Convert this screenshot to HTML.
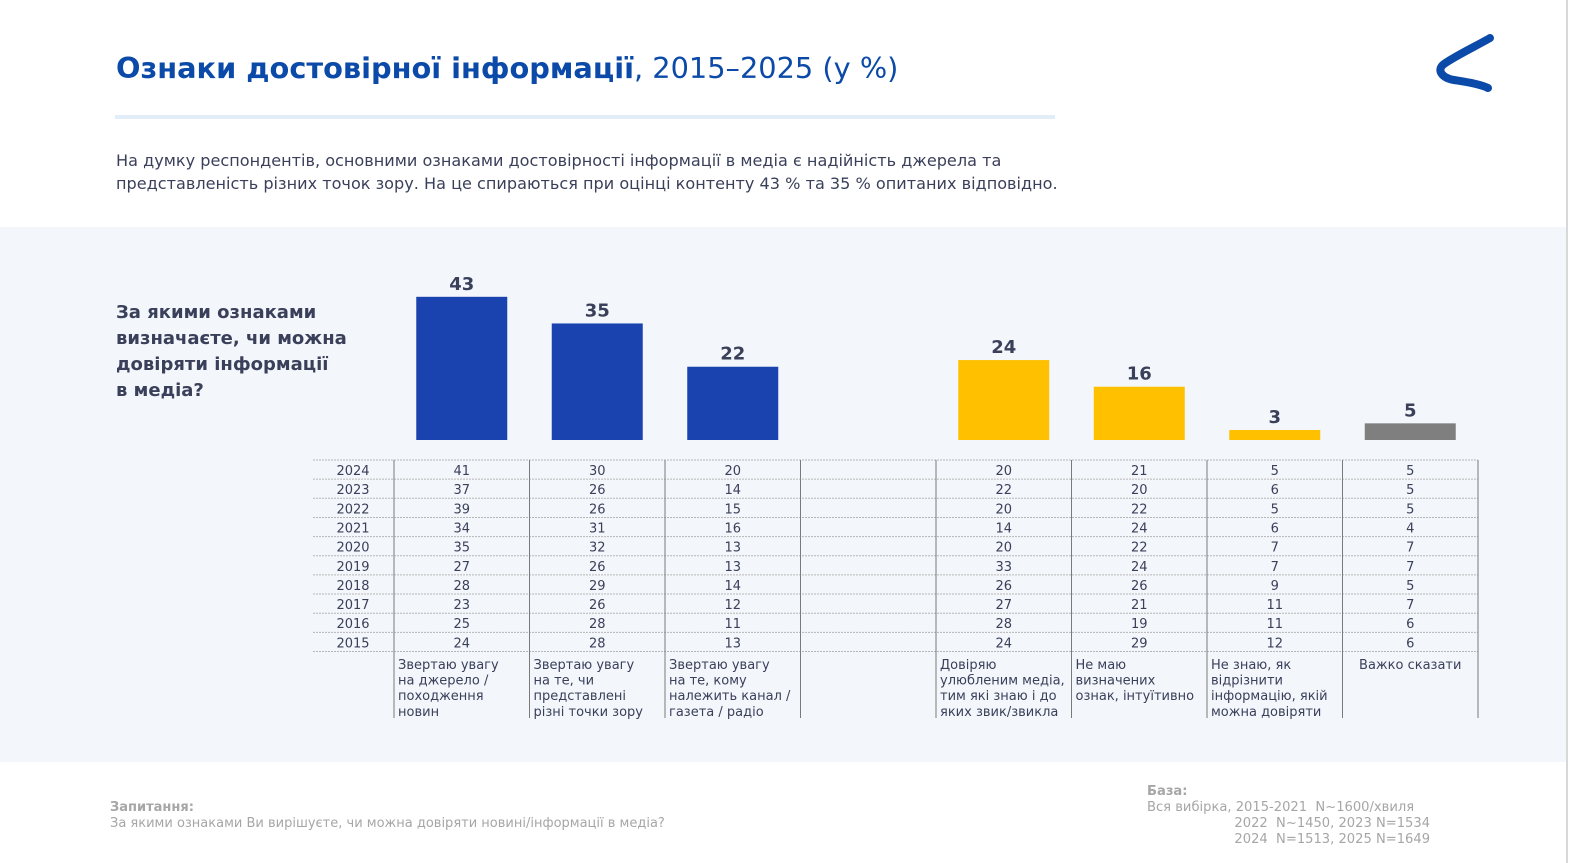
<!DOCTYPE html>
<html><head><meta charset="utf-8"><style>
body{margin:0;width:1571px;height:863px;overflow:hidden;background:#fff;font-family:"DejaVu Sans","Liberation Sans",sans-serif;position:relative}
.abs{position:absolute}
</style></head><body>
<div class="abs" style="left:116px;top:51px;font-family:'DejaVu Sans',sans-serif;font-size:28.8px;color:#0b4aa8;white-space:nowrap"><b>Ознаки достовірної інформації</b>, 2015–2025 (у %)</div>
<div class="abs" style="left:115px;top:115px;width:940px;height:4px;background:#e3edf8"></div>
<svg class="abs" style="left:1430px;top:30px" width="70" height="70"><path d="M60 8 C50 14 25 26 14 34 C6 40 12 48 24 50 C36 52 50 54 58 58" stroke="#0b4aa8" stroke-width="8" fill="none" stroke-linecap="round"/></svg>
<div class="abs" style="left:116px;top:149px;font-size:16.1px;line-height:23px;color:#3a3f5a;white-space:nowrap">На думку респондентів, основними ознаками достовірності інформації в медіа є надійність джерела та<br>представленість різних точок зору. На це спираються при оцінці контенту 43 % та 35 % опитаних відповідно.</div>
<div class="abs" style="left:0;top:227px;width:1566px;height:535px;background:#f3f7fb"></div>
<div class="abs" style="left:1566px;top:0;width:2px;height:863px;background:#d8d8d8"></div>
<div class="abs" style="left:116px;top:300px;font-size:18px;line-height:26px;font-weight:bold;color:#3a3f5a;white-space:nowrap">За якими ознаками<br>визначаєте, чи можна<br>довіряти інформації<br>в медіа?</div>
<svg class="abs" id="chart" style="left:0;top:0" width="1571" height="863"></svg>
<div class="abs" style="left:110px;top:800px;font-size:13px;line-height:16px;color:#a6a6a6;white-space:nowrap"><b>Запитання:</b><br>За якими ознаками Ви вирішуєте, чи можна довіряти новині/інформації в медіа?</div>
<div class="abs" style="left:1147px;top:784px;font-size:13.1px;line-height:16px;color:#a6a6a6;white-space:pre"><b>База:</b>
Вся вибірка, 2015-2021  N~1600/хвиля
                     2022  N~1450, 2023 N=1534
                     2024  N=1513, 2025 N=1649</div>
<script>
const categories=[["Звертаю увагу","на джерело /","походження","новин"],["Звертаю увагу","на те, чи","представлені","різні точки зору"],["Звертаю увагу","на те, кому","належить канал /","газета / радіо"],null,["Довіряю","улюбленим медіа,","тим які знаю і до","яких звик/звикла"],["Не маю","визначених","ознак, інтуїтивно"],["Не знаю, як","відрізнити","інформацію, якій","можна довіряти"],["Важко сказати"]];
const values2025=[43,35,22,null,24,16,3,5];
const colors=["#1a43b0","#1a43b0","#1a43b0",null,"#ffc000","#ffc000","#ffc000","#7f7f7f"];
const years=["2024","2023","2022","2021","2020","2019","2018","2017","2016","2015"];
const history=[[41,37,39,34,35,27,28,23,25,24],[30,26,26,31,32,26,29,26,28,28],[20,14,15,16,13,13,14,12,11,13],null,[20,22,20,14,20,33,26,27,28,24],[21,20,22,24,22,24,26,21,19,29],[5,6,5,6,7,7,9,11,11,12],[5,5,5,4,7,7,5,7,6,6]];
const svg=document.getElementById('chart');const NS='http://www.w3.org/2000/svg';
function mk(t,a,txt){const e=document.createElementNS(NS,t);for(const k in a)e.setAttribute(k,a[k]);if(txt!==undefined)e.textContent=txt;svg.appendChild(e);return e;}
const x0=394,cw=135.5,base=440,k=3.33,rowTop=460,rh=19.15;
const colX=i=>x0+i*cw;const y=v=>base-v*k;
categories.forEach((c,i)=>{
 if(values2025[i]===null)return;
 const cx=colX(i)+cw/2;
 const b=mk('rect',{x:cx-45.5,y:y(values2025[i]),width:91,height:values2025[i]*k,fill:colors[i]});
 
 const l=mk('text',{x:cx,y:y(values2025[i])-7,'text-anchor':'middle','font-size':18,'font-weight':'bold',fill:'#3a3f5a'},values2025[i]);
 
});
for(let r=0;r<=years.length;r++){const ln=mk('line',{x1:313,x2:1478,y1:rowTop+r*rh,y2:rowTop+r*rh,stroke:'#b5b5b5','stroke-dasharray':'2,1'});}
years.forEach((yr,r)=>{const t=mk('text',{x:353,y:rowTop+r*rh+15,'text-anchor':'middle','font-size':13,fill:'#3a3f5a'},yr);});
for(let i=0;i<=8;i++){const ln=mk('line',{x1:colX(i),x2:colX(i),y1:rowTop,y2:718,stroke:'#7a7a7a','stroke-width':1});}
history.forEach((h,i)=>{if(!h)return;const cx=colX(i)+cw/2;h.forEach((v,r)=>{const t=mk('text',{x:cx,y:rowTop+r*rh+15,'text-anchor':'middle','font-size':13,fill:'#3a3f5a'},v);});});
categories.forEach((c,i)=>{if(!c)return;const single=c.length===1;c.forEach((s,j)=>{const t=mk('text',{x:single?colX(i)+cw/2:colX(i)+4,y:669+j*15.6,'text-anchor':single?'middle':'start','font-size':13,fill:'#3a3f5a'},s);});});
</script>
</body></html>
